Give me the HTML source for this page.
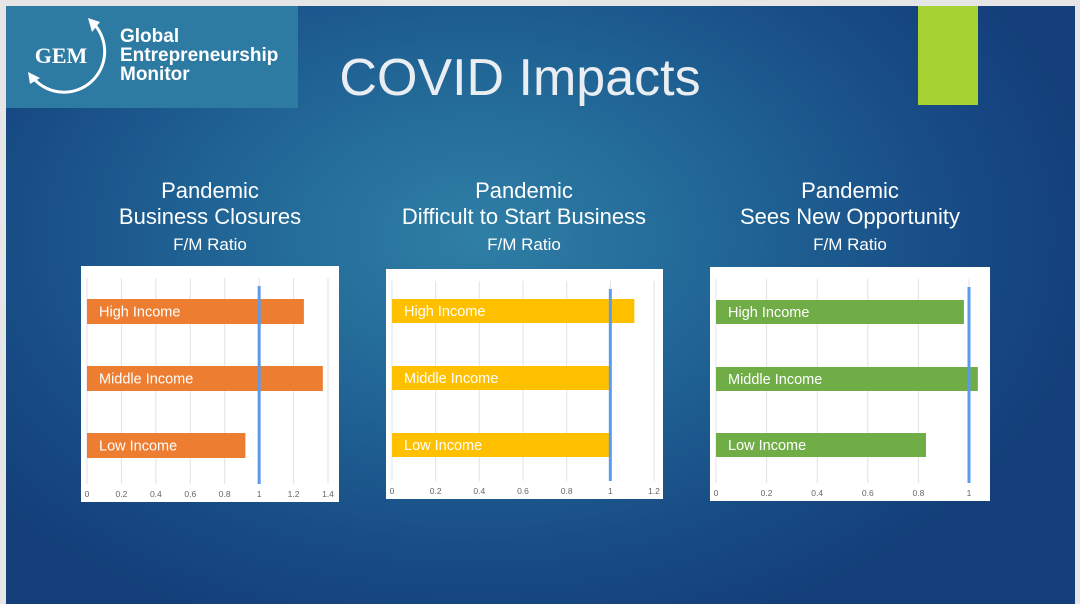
<!DOCTYPE html>
<html><head><meta charset="utf-8">
<style>
html,body{margin:0;padding:0;}
body{width:1080px;height:604px;position:relative;overflow:hidden;background:#e6e6e6;font-family:"Liberation Sans",sans-serif;}
#slide{position:absolute;left:6px;top:6px;width:1069px;height:598px;
background:radial-gradient(ellipse 620px 420px at 470px 230px,#2f7fa6 0%,#216696 40%,#184d86 75%,#143f7a 100%);}
#logo{position:absolute;left:6px;top:6px;width:292px;height:102px;background:#2d7aa3;}
.t{position:absolute;color:#fff;text-align:center;}
</style></head><body>
<div id="slide"></div>
<div id="logo">
 <svg width="292" height="102" style="position:absolute;left:0;top:0">
  <path d="M88 18 A35 35 0 1 1 28 73" stroke="#fff" stroke-width="3" fill="none"/>
  <polygon points="82,12 94,16 86,26" fill="#fff"/>
  <polygon points="22,66 34,72 24,78" fill="#fff"/>
  <text x="55" y="57" text-anchor="middle" font-family="Liberation Serif" font-weight="bold" font-size="22" fill="#fff">GEM</text>
  <text x="114" y="36" font-size="19" font-weight="bold" fill="#fff">Global</text>
  <text x="114" y="55" font-size="19" font-weight="bold" fill="#fff">Entrepreneurship</text>
  <text x="114" y="74" font-size="19" font-weight="bold" fill="#fff">Monitor</text>
 </svg>
</div>
<div style="position:absolute;left:918px;top:6px;width:60px;height:99px;background:#a6d233"></div>
<div class="t" style="left:290px;top:48px;width:460px;font-size:52px;line-height:60px;color:#eaeef2">COVID Impacts</div>

<div class="t" style="left:60px;top:178px;width:300px;font-size:22px;line-height:26px">Pandemic<br>Business Closures<br><span style="font-size:17px">F/M Ratio</span></div>
<div class="t" style="left:374px;top:178px;width:300px;font-size:22px;line-height:26px">Pandemic<br>Difficult to Start Business<br><span style="font-size:17px">F/M Ratio</span></div>
<div class="t" style="left:700px;top:178px;width:300px;font-size:22px;line-height:26px">Pandemic<br>Sees New Opportunity<br><span style="font-size:17px">F/M Ratio</span></div>

<svg id="charts" width="1080" height="604" style="position:absolute;left:0;top:0"></svg>
<script>
const categories = ["High Income","Middle Income","Low Income"];
const closuresValues = [1.26, 1.37, 0.92];
const startValues = [1.11, 1.0, 1.0];
const opportunityValues = [0.98, 1.035, 0.83];
const closuresTicks = ["0","0.2","0.4","0.6","0.8","1","1.2","1.4"];
const startTicks = ["0","0.2","0.4","0.6","0.8","1","1.2"];
const opportunityTicks = ["0","0.2","0.4","0.6","0.8","1"];
const NS="http://www.w3.org/2000/svg";
const svg=document.getElementById('charts');
function mk(tag,attrs,parent){const e=document.createElementNS(NS,tag);for(const k in attrs)e.setAttribute(k,attrs[k]);(parent||svg).appendChild(e);return e;}
function chart(id,panel,x0,x1,maxV,ticks,values,color,barYs,barH){
  const g=mk('g',{});
  
  
  const bg=mk('rect',{x:panel[0],y:panel[1],width:panel[2],height:panel[3],fill:'#fff'},g);
  
  
  const xs=v=>x0+(x1-x0)*v/maxV;
  const top=panel[1]+12, bot=panel[1]+panel[3]-18;
  ticks.forEach(t=>{
    const v=parseFloat(t);
    const gl=mk('line',{x1:xs(v),x2:xs(v),y1:top,y2:bot,stroke:'#e2e2e2','stroke-width':1},g);
    
    
    const tl=mk('text',{x:xs(v),y:bot+13,'text-anchor':'middle','font-size':8.5,fill:'#666'},g);
    
    
    tl.textContent=t;
  });
  values.forEach((v,i)=>{
    const r=mk('rect',{x:xs(0),y:barYs[i],width:xs(v)-xs(0),height:barH,fill:color},g);
    
    
    const l=mk('text',{x:xs(0)+12,y:barYs[i]+barH/2+5,'font-size':14.5,fill:'#fff'},g);
    
    
    l.textContent=categories[i];
  });
  const ref=mk('line',{x1:xs(1),x2:xs(1),y1:top+8,y2:bot,stroke:'#5b9bef','stroke-width':3},g);
  
  
}
chart('chart-business-closures',[81,266,258,236],87,328,1.4,closuresTicks,closuresValues,'#ed7d31',[299,366,433],25);
chart('chart-difficult-start',[386,269,277,230],392,654,1.2,startTicks,startValues,'#ffc000',[299,366,433],24);
chart('chart-new-opportunity',[710,267,280,234],716,969,1.0,opportunityTicks,opportunityValues,'#70ad47',[300,367,433],24);
</script>
</body></html>
